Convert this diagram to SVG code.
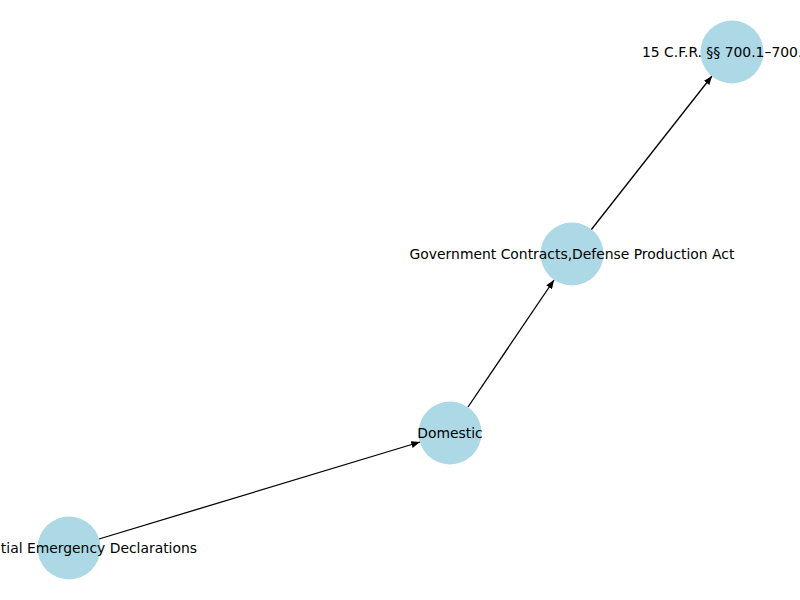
<svg xmlns="http://www.w3.org/2000/svg" width="800" height="600" viewBox="0 0 800 600">
<style>
.node circle{fill:#add8e6;stroke:none}
.node text{font-family:"DejaVu Sans",sans-serif;font-size:13.9px;fill:#000;dominant-baseline:central}
.edges line{stroke:#000;stroke-width:1.3}
</style>
<defs>
<marker id="arr" viewBox="0 0 10 8" refX="10" refY="4" markerWidth="9" markerHeight="7" markerUnits="userSpaceOnUse" orient="auto">
<path d="M0,0 L10,4 L0,8 z" fill="#000"/>
</marker>
</defs>
<rect width="800" height="600" fill="#fff"/>
<g class="edges">
<line x1="99" y1="539" x2="420" y2="442" marker-end="url(#arr)"/>
<line x1="468" y1="407" x2="554" y2="280" marker-end="url(#arr)"/>
<line x1="591" y1="230" x2="712" y2="76" marker-end="url(#arr)"/>
</g>
<g id="n1" class="node"><circle cx="69" cy="548" r="31.5"/><text x="197" y="548" text-anchor="end">tial Emergency Declarations</text></g>
<g id="n2" class="node"><circle cx="450" cy="433" r="31.5"/><text x="450" y="433" text-anchor="middle">Domestic</text></g>
<g id="n3" class="node"><circle cx="572" cy="254" r="31.5"/><text x="572" y="254" text-anchor="middle">Government Contracts,Defense Production Act</text></g>
<g id="n4" class="node"><circle cx="732" cy="52" r="31.5"/><text x="642" y="52" text-anchor="start">15 C.F.R. §§ 700.1–700.</text></g>
</svg>
